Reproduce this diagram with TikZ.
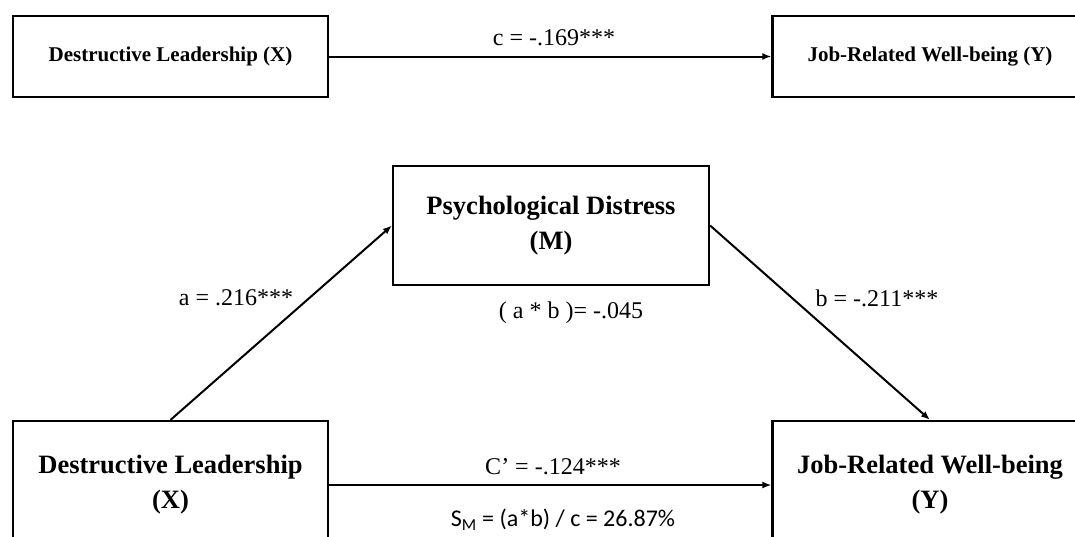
\documentclass[tikz,border=0pt]{standalone}
\usepackage{fontspec}
\setmainfont{Liberation Serif}
\newfontfamily\calibri{Carlito}
\usetikzlibrary{arrows.meta,positioning}

\tikzset{
    varbox/.style={draw, line width=2.2pt, inner sep=0pt, align=center,
        font=\bfseries\fontsize{26.5}{35}\selectfont},
    smallbox/.style={varbox, minimum width=315pt, minimum height=81pt,
        font=\bfseries\fontsize{21}{25}\selectfont},
    bigbox/.style={varbox, minimum width=315pt, minimum height=128pt},
    path/.style={line width=2pt, -{Latex[length=9pt,width=7pt]}},
    coef/.style={inner sep=0pt, font=\fontsize{24}{28}\selectfont}
}

\begin{document}
\begin{tikzpicture}[x=1pt, y=-1pt]
    \useasboundingbox (0,0) rectangle (1075,536);

    % Total effect
    \node[smallbox] (topX) at (170.5, 56.5) {Destructive Leadership (X)};
    \node[smallbox] (topY) at (930, 56.5) {Job-Related Well-being (Y)};
    \draw[path] (topX.east) -- (topY.west);
    \node[coef] (cLab) at (554, 38) {c = -.169***};

    % Mediation model
    \node[varbox, minimum width=316pt, minimum height=119pt] (M) at (551, 225.5)
        {Psychological Distress\\(M)};
    \node[bigbox] (X) at (170.5, 485) {Destructive Leadership\\(X)};
    \node[bigbox] (Y) at (930, 485) {Job-Related Well-being\\(Y)};

    \draw[path] (X.north) -- (M.west);
    \draw[path] (M.east) -- (Y.north);
    \draw[path] (X.east) -- (Y.west);

    \node[coef] (aLab) at (236, 298) {a = .216***};
    \node[coef] (bLab) at (877, 298) {b = -.211***};
    \node[coef] (abLab) at (571, 313) {( a * b )= -.045};
    \node[coef] (cpLab) at (553, 467) {C’ = -.124***};
    \node[coef, font=\calibri\fontsize{24}{28}\selectfont] (smLab) at (563, 520)
        {S\textsubscript{M} = (a*b) / c = 26.87\%};
\end{tikzpicture}
\end{document}
